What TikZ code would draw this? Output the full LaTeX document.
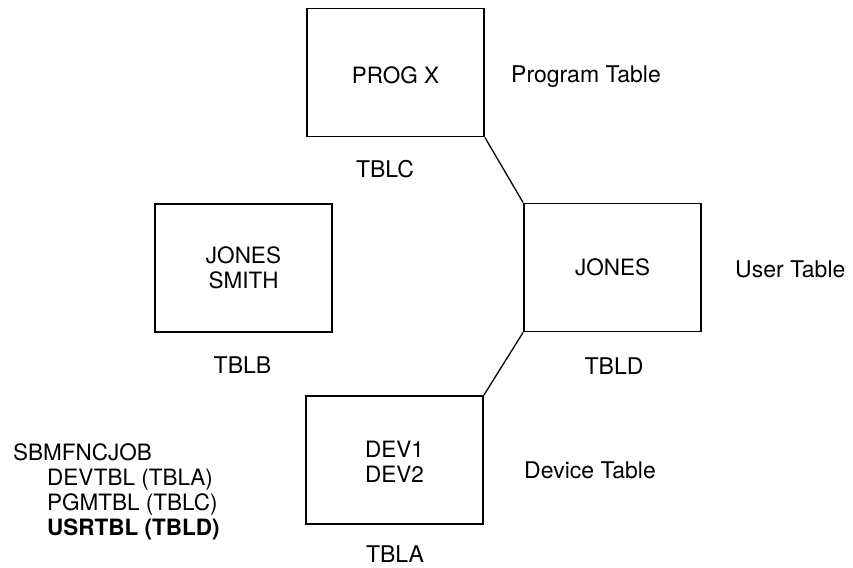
\documentclass[tikz,border=0pt]{standalone}
\usepackage{fontspec}
\setmainfont{TeX Gyre Heros}
\newcommand{\twoline}[3]{\raisebox{#1}[\height][\depth]{\begin{tabular}{@{}c@{}}#2\\#3\end{tabular}}}
\begin{document}
\begin{tikzpicture}[x=1pt,y=-1pt,
  tbl/.style={draw, line width=1.7pt, minimum width=177pt, minimum height=128pt,
    inner sep=0pt, align=center, font=\fontsize{22.5}{25}\selectfont},
  lbl/.style={anchor=base, inner sep=0pt, font=\fontsize{23}{25}\selectfont},
  side/.style={lbl, anchor=base west},
  lst/.style={anchor=base west, inner sep=0pt, font=\fontsize{22.5}{25}\selectfont},
  conn/.style={line width=1.3pt}]
\useasboundingbox (0,0) rectangle (853,567);
% boxes
\node[tbl] (progx) at (395.5,72.5) {\raisebox{-3pt}[\height][\depth]{PROG X}};
\node[tbl] (tblb) at (243.5,268) {\twoline{-3pt}{JONES}{SMITH}};
\node[tbl] (tbld) at (612.5,267.5) {JONES};
\node[tbl] (dev) at (394.5,460) {\twoline{-5pt}{DEV1}{DEV2}};
% labels under boxes
\node[lbl] (lc) at (385,177) {TBLC};
\node[lbl] (lb) at (242.5,373) {TBLB};
\node[lbl] (ld) at (614,374) {TBLD};
\node[lbl] (la) at (395,562) {TBLA};
% side labels
\node[side] (pt) at (511,83) {Program Table};
\node[side] (ut) at (735,277) {User Table};
\node[side] (dt) at (524,478) {Device Table};
% list
\node[lst] (l1) at (13,460) {SBMFNCJOB};
\node[lst] (l2) at (47,485) {DEVTBL (TBLA)};
\node[lst] (l3) at (47,510) {PGMTBL (TBLC)};
\node[lst] (l4) at (47,535) {\bfseries USRTBL (TBLD)};
% connectors
\draw[conn] (progx.south east) -- (tbld.north west);
\draw[conn] (tbld.south west) -- (dev.north east);
\end{tikzpicture}
\end{document}
